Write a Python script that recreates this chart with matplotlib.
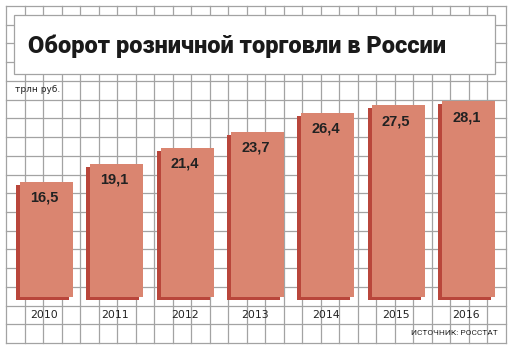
import numpy as np
import matplotlib.pyplot as plt
from matplotlib.patches import Rectangle

years = ["2010", "2011", "2012", "2013", "2014", "2015", "2016"]
values = [16.5, 19.1, 21.4, 23.7, 26.4, 27.5, 28.1]

title = "Оборот розничной торговли в России"
unit = "трлн руб."
source = "ИСТОЧНИК: РОССТАТ"

W, H = 513, 351
face = "#da8570"
shade = "#b9463b"
grid_c = "#a3a3a3"

fig = plt.figure(figsize=(W / 100, H / 100), dpi=100)

# background: squared paper + title box (pixel coords)
bg = fig.add_axes([0, 0, 1, 1])
bg.set_xlim(0, W)
bg.set_ylim(H, 0)
bg.axis("off")
for x in np.linspace(6, 506, 28):
    bg.plot([x, x], [6, 343], color=grid_c, lw=0.9, zorder=1)
for y in np.linspace(6, 343, 19):
    bg.plot([6, 506], [y, y], color=grid_c, lw=0.9, zorder=1)
bg.add_patch(Rectangle((14, 15), 481, 59, facecolor="white",
                       edgecolor=grid_c, lw=0.9, zorder=2))
bg.text(28, 46, title, fontsize=17, fontweight="heavy", family="Roboto",
        color="#1a1a1a", va="center", ha="left", zorder=3)
bg.text(15, 89, unit, fontsize=6.5, family="Liberation Sans Narrow",
        color="#222222", va="center", ha="left")
bg.text(498, 333, source, fontsize=6, family="Roboto",
        color="#222222", va="center", ha="right")

# bars, data coords
ax = fig.add_axes([0, 0, 1, 1])
ax.patch.set_alpha(0)
pxu = 70.33           # pixels per bar slot
pyu = 6.97            # pixels per value unit
x0 = -46.5 / pxu
ax.set_xlim(x0, x0 + W / pxu)
ax.set_ylim(-(H - 297) / pyu, 297 / pyu)
ax.axis("off")

pos = np.arange(len(years))
bw = 53 / pxu
dx = 4 / pxu
dy = 3 / pyu
ax.bar(pos - dx, values, width=bw, bottom=-dy, color=shade, zorder=2)
ax.bar(pos, values, width=bw, color=face, zorder=3)

for p, v, yr in zip(pos, values, years):
    ax.text(p - 0.03, v - 16 / pyu, f"{v:.1f}".replace(".", ","), fontsize=10.5,
            fontweight="bold", family="Liberation Sans", color="#222222",
            ha="center", va="center", zorder=4)
    ax.text(p - 0.03, -18.5 / pyu, yr, fontsize=7.8, family="Liberation Sans Narrow",
            color="#222222", ha="center", va="center", zorder=4)

fig.savefig("out.png", dpi=100)
